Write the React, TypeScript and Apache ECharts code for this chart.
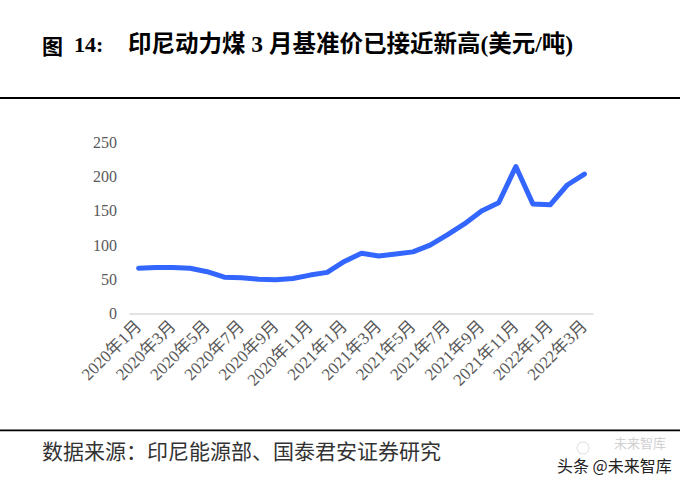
import React, { useEffect, useRef } from "react";
import * as echarts from "echarts";

const months: string[] = [
  "2020年1月", "2020年2月", "2020年3月", "2020年4月", "2020年5月", "2020年6月",
  "2020年7月", "2020年8月", "2020年9月", "2020年10月", "2020年11月", "2020年12月",
  "2021年1月", "2021年2月", "2021年3月", "2021年4月", "2021年5月", "2021年6月",
  "2021年7月", "2021年8月", "2021年9月", "2021年10月", "2021年11月", "2021年12月",
  "2022年1月", "2022年2月", "2022年3月",
];

const hbaPrice: number[] = [
  66, 67, 67, 66, 61, 53, 52, 50, 49, 51, 56, 60,
  76, 88, 84, 87, 90, 100, 115, 131, 150, 162, 215, 160,
  159, 188, 204,
];

const yTicks = { min: 0, max: 250, interval: 50 };

const titleText = "印尼动力煤 3 月基准价已接近新高(美元/吨)";
const sourceText = "数据来源：印尼能源部、国泰君安证券研究";
const watermarkText = "头条 @未来智库";

const SERIF = '"Liberation Serif", "Times New Roman", "Noto Sans CJK SC", serif';
const CJK = '"Noto Sans CJK SC", "Liberation Serif", sans-serif';

export default function App() {
  const ref = useRef<HTMLDivElement>(null);
  useEffect(() => {
    if (!ref.current) return;
    const chart = echarts.init(ref.current, undefined, { renderer: "svg" });
    chart.setOption({
      animation: false,
      backgroundColor: "#ffffff",
      grid: { left: 130, right: 107, top: 142.7, bottom: 175.7, containLabel: false },
      xAxis: {
        type: "category",
        data: months,
        boundaryGap: true,
        axisLine: { lineStyle: { color: "#d9d9d9", width: 1.5 } },
        axisTick: { interval: 1, length: 5, lineStyle: { color: "#d9d9d9", width: 1.5 } },
        axisLabel: {
          interval: 1,
          rotate: 45,
          margin: 10,
          fontSize: 17,
          color: "#595959",
          fontFamily: SERIF,
        },
        splitLine: { show: false },
      },
      yAxis: {
        type: "value",
        min: yTicks.min,
        max: yTicks.max,
        interval: yTicks.interval,
        axisLine: { show: false },
        axisTick: { show: false },
        splitLine: { show: false },
        axisLabel: { margin: 13, fontSize: 16, color: "#595959", fontFamily: SERIF },
      },
      series: [
        {
          type: "line",
          data: hbaPrice,
          symbol: "none",
          lineStyle: { color: "#3366ff", width: 5, cap: "round", join: "round" },
        },
      ],
      graphic: [
        {
          type: "text",
          left: 42,
          top: 34,
          style: { text: "图", font: `bold 21px ${CJK}`, fill: "#000" },
        },
        {
          type: "text",
          left: 74,
          top: 33,
          style: { text: "14:", font: `bold 22px ${SERIF}`, fill: "#000" },
        },
        {
          type: "text",
          left: 128,
          top: 32,
          style: { text: titleText, font: `bold 23.5px ${SERIF}`, fill: "#000" },
        },
        {
          type: "rect",
          shape: { x: 0, y: 97, width: 680, height: 2 },
          style: { fill: "#000" },
        },
        {
          type: "rect",
          shape: { x: 0, y: 429.5, width: 680, height: 1.8 },
          style: { fill: "#000" },
        },
        {
          type: "text",
          left: 42,
          top: 439,
          style: { text: sourceText, font: `21px ${CJK}`, fill: "#333" },
        },
        {
          type: "text",
          left: 614,
          top: 436,
          style: { text: "未来智库", font: `13px ${CJK}`, fill: "#d0d0d0" },
        },
        {
          type: "circle",
          shape: { cx: 583, cy: 448, r: 6 },
          style: { fill: "none", stroke: "#dddddd", lineWidth: 1 },
        },
        {
          type: "text",
          left: 557,
          top: 457,
          style: { text: watermarkText, font: `16px ${CJK}`, fill: "#222" },
        },
      ],
    });
    return () => chart.dispose();
  }, []);
  return (
    <div
      ref={ref}
      style={{ position: "absolute", left: 0, top: 0, width: 700, height: 489 }}
    />
  );
}
